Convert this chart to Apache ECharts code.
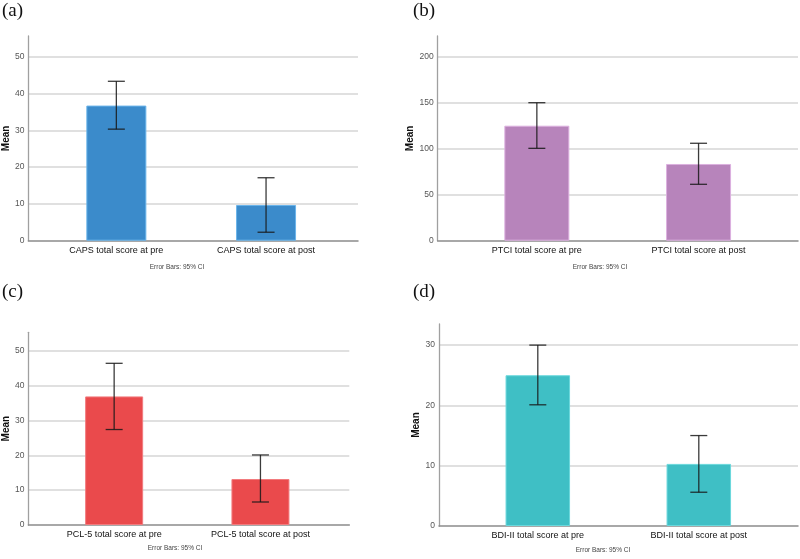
<!DOCTYPE html>
<html>
<head>
<meta charset="utf-8">
<script src="https://cdn.jsdelivr.net/npm/echarts@6/dist/echarts.min.js"></script>
<style>
html,body{margin:0;padding:0;background:#fff;}
#chart{width:800px;height:559px;}
</style>
</head>
<body>
<div id="chart"></div>
<script>
// ---- data ----
const capsCategories = ['CAPS total score at pre', 'CAPS total score at post'];
const capsMeans = [36.7, 9.7];
const capsLow = [30.3, 2.3];
const capsHigh = [43.3, 17.1];

const ptciCategories = ['PTCI total score at pre', 'PTCI total score at post'];
const ptciMeans = [125.0, 83.4];
const ptciLow = [100.4, 61.3];
const ptciHigh = [150.0, 105.9];

const pclCategories = ['PCL-5 total score at pre', 'PCL-5 total score at post'];
const pclMeans = [36.9, 13.2];
const pclLow = [27.4, 6.6];
const pclHigh = [46.4, 20.1];

const bdiCategories = ['BDI-II total score at pre', 'BDI-II total score at post'];
const bdiMeans = [25.0, 10.3];
const bdiLow = [20.1, 5.6];
const bdiHigh = [30.0, 15.0];

const panelLetters = ['(a)', '(b)', '(c)', '(d)'];
const yAxisTitle = 'Mean';
const footnote = 'Error Bars: 95% CI';

// ---- layout / styles ----
const SANS = '"Liberation Sans", Arial, sans-serif';
const panels = [
  {cats: capsCategories, means: capsMeans, low: capsLow, high: capsHigh, max: 55.6, interval: 10,
   axisX: 26, gridEnd: 358, top: 36, zero: 240.7, barLeft: 41.5, barWidthArea: 299.4, barW: 60,
   fill: '#3b8bcb', border: '#6ab4ea', noteX: 177, noteY: 267},
  {cats: ptciCategories, means: ptciMeans, low: ptciLow, high: ptciHigh, max: 222.5, interval: 50,
   axisX: 437.7, gridEnd: 798, top: 36, zero: 240.7, barLeft: 456, barWidthArea: 323.4, barW: 65,
   fill: '#b784bb', border: '#dcb0df', noteX: 600, noteY: 267},
  {cats: pclCategories, means: pclMeans, low: pclLow, high: pclHigh, max: 55.3, interval: 10,
   axisX: 26, gridEnd: 349.3, top: 332.3, zero: 525, barLeft: 41, barWidthArea: 292.6, barW: 58,
   fill: '#ea4a4c', border: '#f27b7e', noteX: 175, noteY: 548},
  {cats: bdiCategories, means: bdiMeans, low: bdiLow, high: bdiHigh, max: 33.5, interval: 10,
   axisX: 439, gridEnd: 798, top: 324, zero: 526, barLeft: 457.3, barWidthArea: 322, barW: 64.5,
   fill: '#3fbfc5', border: '#6ad8dc', noteX: 603, noteY: 550.5}
];
const letterPos = [[2, 2], [413, 2], [2, 283], [413, 283]];

const grid = [], xAxis = [], yAxis = [], series = [], graphic = [];

panels.forEach((p, i) => {
  const bgIdx = grid.length;
  grid.push({left: p.axisX, top: p.top, width: p.gridEnd - p.axisX, height: p.zero - p.top, containLabel: false});
  const fgIdx = grid.length;
  grid.push({left: p.barLeft, top: p.top, width: p.barWidthArea, height: p.zero - p.top, containLabel: false});

  // background axes
  xAxis.push({gridIndex: bgIdx, type: 'value', min: 0, max: 1,
    axisLine: {show: true, lineStyle: {color: '#8c8c8c', width: 1.5}},
    axisTick: {show: false}, axisLabel: {show: false}, splitLine: {show: false}});
  yAxis.push({gridIndex: bgIdx, type: 'value', min: 0, max: p.max, interval: p.interval,
    name: yAxisTitle, nameLocation: 'middle', nameGap: 17,
    nameTextStyle: {fontFamily: SANS, fontWeight: 'bold', fontSize: 10, color: '#111'},
    axisLine: {show: true, lineStyle: {color: '#a0a0a0', width: 1.3}},
    axisTick: {show: false},
    axisLabel: {show: true, margin: 4, fontFamily: SANS, fontSize: 8.5, color: '#555', showMaxLabel: false},
    splitLine: {show: true, showMinLine: false, showMaxLine: false, lineStyle: {color: '#d6d6d6', width: 1.5}}});

  // foreground axes
  xAxis.push({gridIndex: fgIdx, type: 'category', data: p.cats, boundaryGap: true,
    axisLine: {show: false}, axisTick: {show: false},
    axisLabel: {show: true, margin: 5, interval: 0, fontFamily: SANS, fontSize: 9, color: '#111'},
    splitLine: {show: false}});
  yAxis.push({gridIndex: fgIdx, type: 'value', min: 0, max: p.max, show: false, splitLine: {show: false}});

  series.push({type: 'bar', xAxisIndex: fgIdx, yAxisIndex: fgIdx, data: p.means, barWidth: p.barW,
    itemStyle: {color: p.fill, borderColor: p.border, borderWidth: 1}, silent: true, z: 2});

  const errData = p.cats.map((c, k) => [k, p.low[k], p.high[k]]);
  series.push({type: 'custom', xAxisIndex: fgIdx, yAxisIndex: fgIdx, data: errData, z: 5, silent: true,
    renderItem: function (params, api) {
      const x = api.value(0);
      const lo = api.coord([x, api.value(1)]);
      const hi = api.coord([x, api.value(2)]);
      const hw = 8.5;
      const st = {stroke: 'rgba(25,25,25,0.85)', lineWidth: 1.3, fill: null};
      return {type: 'group', children: [
        {type: 'line', shape: {x1: lo[0], y1: lo[1], x2: hi[0], y2: hi[1]}, style: st},
        {type: 'line', shape: {x1: hi[0] - hw, y1: hi[1], x2: hi[0] + hw, y2: hi[1]}, style: st},
        {type: 'line', shape: {x1: lo[0] - hw, y1: lo[1], x2: lo[0] + hw, y2: lo[1]}, style: st}
      ]};
    }});

  graphic.push({type: 'text', left: letterPos[i][0], top: letterPos[i][1],
    style: {text: panelLetters[i], font: '19px "Liberation Serif", "Times New Roman", serif', fill: '#111'}});
  graphic.push({type: 'text', x: p.noteX, y: p.noteY,
    style: {text: footnote, font: '6.5px ' + SANS, fill: '#444', align: 'center', verticalAlign: 'middle'}});
});

const chart = echarts.init(document.getElementById('chart'), null, {renderer: 'canvas'});
chart.setOption({animation: false, backgroundColor: '#fff', grid, xAxis, yAxis, series, graphic});
</script>
</body>
</html>
